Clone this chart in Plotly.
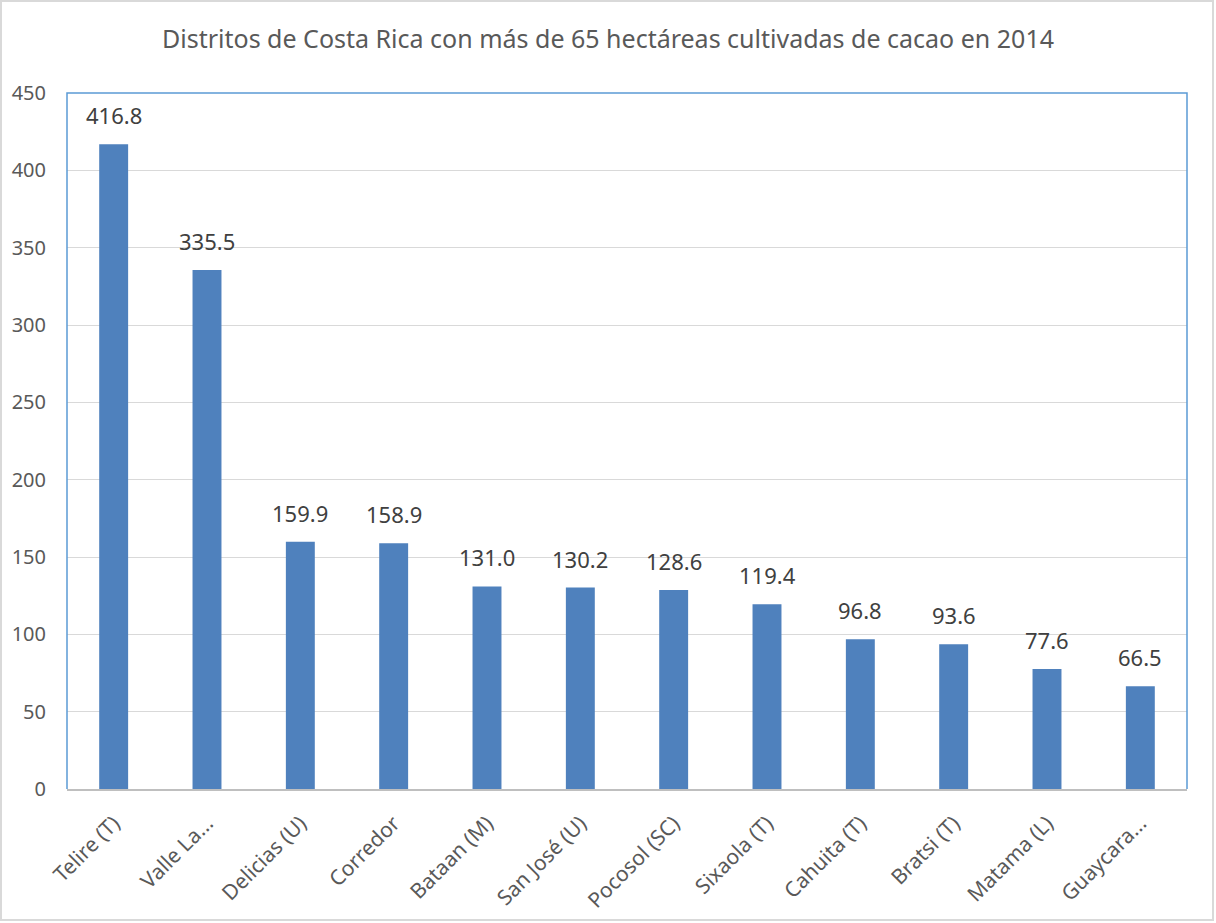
import plotly.graph_objects as go

distritos = ['Telire (T)', 'Valle La...', 'Delicias (U)', 'Corredor', 'Bataan (M)',
             'San José (U)', 'Pocosol (SC)', 'Sixaola (T)', 'Cahuita (T)', 'Bratsi (T)',
             'Matama (L)', 'Guaycara...']
hectareas = [416.8, 335.5, 159.9, 158.9, 131.0, 130.2, 128.6, 119.4, 96.8, 93.6, 77.6, 66.5]

FONT = 'Noto Sans'

fig = go.Figure()
fig.add_trace(go.Bar(
    x=distritos, y=hectareas,
    marker=dict(color='#4F81BD', line=dict(width=0)),
    width=0.31,
))

# etiquetas de datos sobre cada barra
for d, v in zip(distritos, hectareas):
    fig.add_annotation(x=d, y=v, text=f'{v:.1f}', showarrow=False,
                       yanchor='bottom', yshift=12,
                       font=dict(family=FONT, size=22, color='#404040'))

# borde exterior del gráfico y borde azul del área de trazado
W, H = 1120, 696
fig.add_shape(type='rect', xref='paper', yref='paper',
              x0=(1 - 67) / W, x1=(1213 - 67) / W, y0=(789 - 920) / H, y1=(789 - 1) / H,
              line=dict(color='#D9D9D9', width=2), layer='below')
fig.add_shape(type='path', xref='paper', yref='paper',
              path='M 0,0 L 0,1 L 1,1 L 1,0',
              line=dict(color='#5B9BD5', width=1.5))

fig.update_layout(
    width=1216, height=923,
    margin=dict(l=67, r=29, t=93, b=134),
    paper_bgcolor='white', plot_bgcolor='white',
    font=dict(family=FONT, color='#595959'),
    title=dict(text='Distritos de Costa Rica con más de 65 hectáreas cultivadas de cacao en 2014',
               x=0.5, xanchor='center', y=0.957, yanchor='middle',
               font=dict(family=FONT, size=25, color='#595959')),
    showlegend=False,
)
fig.update_yaxes(range=[0, 450], dtick=50, showgrid=True, gridcolor='#D9D9D9', gridwidth=1,
                 zeroline=False, showline=False, ticks='', ticklabelstandoff=20,
                 automargin=False,
                 tickfont=dict(family=FONT, size=20, color='#595959'))
fig.update_xaxes(showline=True, linecolor='#BFBFBF', linewidth=1.5, ticks='', tickangle=-45,
                 ticklabelstandoff=12, automargin=False,
                 tickfont=dict(family=FONT, size=21, color='#595959'))

fig.write_html('out.html', config={'displayModeBar': False},
               post_script="document.body.style.margin='0';")
